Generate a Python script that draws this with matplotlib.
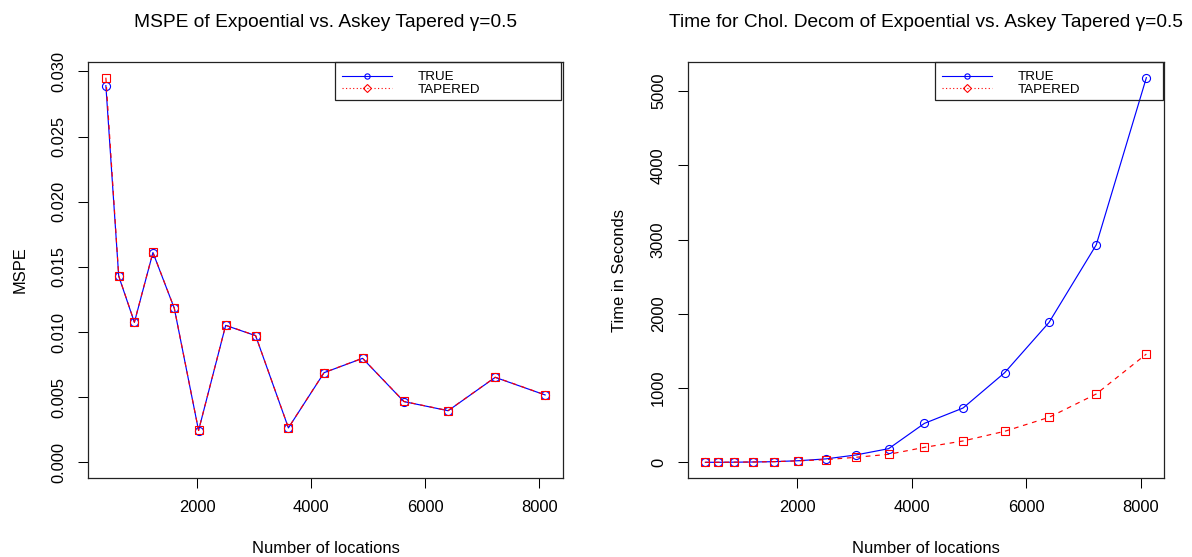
import matplotlib
matplotlib.use("Agg")
import matplotlib.pyplot as plt
from matplotlib.lines import Line2D
from matplotlib.patches import Rectangle

plt.rcParams['font.family'] = ['Liberation Sans', 'DejaVu Sans']

# ---------------- data ----------------
n_locations = [400, 625, 900, 1225, 1600, 2025, 2500, 3025, 3600, 4225, 4900, 5625, 6400, 7225, 8100]

mspe_true = [0.02891, 0.01429, 0.01074, 0.01610, 0.01181, 0.00244, 0.01051, 0.00972,
             0.00264, 0.00688, 0.00798, 0.00466, 0.00396, 0.00652, 0.00517]
mspe_tapered = [0.02952, 0.01432, 0.01076, 0.01612, 0.01182, 0.00245, 0.01052, 0.00973,
                0.00265, 0.00689, 0.00799, 0.00467, 0.00397, 0.00653, 0.00518]

time_true = [0.4, 1.0, 2.2, 4.5, 9.0, 22, 46, 99, 184, 525, 732, 1207, 1884, 2930, 5182]
time_tapered = [0.4, 1.1, 2.4, 4.8, 9.5, 20, 36, 68, 108, 202, 288, 418, 606, 921, 1459]

x_ticks = [2000, 4000, 6000, 8000]
mspe_ticks = [0.000, 0.005, 0.010, 0.015, 0.020, 0.025, 0.030]
time_ticks = [0, 1000, 2000, 3000, 4000, 5000]

legend_labels = ["TRUE", "TAPERED"]
titles = ["MSPE of Expoential vs. Askey Tapered \u03b3=0.5",
          "Time for Chol. Decom of Expoential vs. Askey Tapered \u03b3=0.5"]
ylabels = ["MSPE", "Time in Seconds"]
xlabel = "Number of locations"

# ---------------- layout ----------------
W, H = 1192, 557
fig = plt.figure(figsize=(W / 100, H / 100), dpi=100)

def px_axes(x0, x1, y0, y1):
    return fig.add_axes([x0 / W, 1 - y1 / H, (x1 - x0) / W, (y1 - y0) / H])

ax1 = px_axes(88.3, 562.7, 62.3, 477.7)
ax2 = px_axes(687.7, 1164.0, 62.3, 477.7)

FS = 11.9
BLUE = '#0000FF'
RED = '#FF0000'

def r_range(vals):
    lo, hi = min(vals), max(vals)
    ext = (hi - lo) * 0.04
    return lo - ext, hi + ext

def style(ax, yticks, yfmt):
    ax.set_xlim(*r_range(n_locations))
    ax.set_xticks(x_ticks)
    ax.set_xticklabels([str(t) for t in x_ticks])
    ax.set_yticks(yticks)
    ax.set_yticklabels([yfmt(t) for t in yticks], rotation=90, va='center')
    ax.tick_params(axis='both', length=7.2, width=0.75, labelsize=FS, color='black')
    ax.tick_params(axis='x', pad=9.0)
    ax.tick_params(axis='y', pad=8.5)
    for s in ax.spines.values():
        s.set_linewidth(0.9)
        s.set_color('#222222')

def add_legend(ax, box):
    # box in pixel coords (x0, x1, y0, y1)
    x0, x1, y0, y1 = box
    rect = Rectangle((x0 / W, 1 - y1 / H), (x1 - x0) / W, (y1 - y0) / H,
                     transform=fig.transFigure, fill=False,
                     edgecolor='#222222', linewidth=0.9, zorder=5, clip_on=False)
    ax.add_patch(rect)
    handles = [
        Line2D([], [], color=BLUE, lw=0.8, marker='o', markersize=3.8,
               markerfacecolor='none', markeredgecolor=BLUE, markeredgewidth=0.8),
        Line2D([], [], color=RED, lw=0.8, linestyle=(0, (1, 2.2)), marker='D', markersize=3.6,
               markerfacecolor='none', markeredgecolor=RED, markeredgewidth=0.8),
    ]
    leg = ax.legend(handles, legend_labels, loc='upper left',
                    bbox_to_anchor=((x0 + 4) / W, 1 - (y0 + 6) / H),
                    bbox_transform=fig.transFigure, frameon=False,
                    fontsize=9.6, handlelength=3.8, handletextpad=1.9,
                    labelspacing=0.0, borderpad=0.2, borderaxespad=0.0)
    leg.set_zorder(6)

def plot_pair(ax, ytrue, ytap):
    ax.plot(n_locations, ytrue, color=BLUE, lw=0.85, marker='o', markersize=5.8,
            markerfacecolor='none', markeredgecolor=BLUE, markeredgewidth=0.8, zorder=3)
    ax.plot(n_locations, ytap, color=RED, lw=0.85, linestyle=(0, (4, 4)), marker='s',
            markersize=5.3, markerfacecolor='none', markeredgecolor=RED,
            markeredgewidth=0.8, zorder=4)

# left panel
plot_pair(ax1, mspe_true, mspe_tapered)
ax1.set_ylim(*r_range([0.0] + mspe_tapered))
style(ax1, mspe_ticks, lambda t: f"{t:.3f}")

# right panel
plot_pair(ax2, time_true, time_tapered)
ax2.set_ylim(*r_range(time_true + time_tapered))
style(ax2, time_ticks, lambda t: f"{t:d}")

for ax, title, ylab, xc, ylx in [(ax1, titles[0], ylabels[0], 325.5, 25.0),
                                 (ax2, titles[1], ylabels[1], 925.9, 624.0)]:
    fig.text(xc / W, 1 - 27.0 / H, title, ha='center', va='baseline', fontsize=13.8)
    fig.text(xc / W, 1 - 552.7 / H, xlabel, ha='center', va='baseline', fontsize=FS)
    fig.text(ylx / W, 1 - 270.0 / H, ylab, ha='center', va='baseline', rotation=90,
             fontsize=FS, rotation_mode='anchor')

add_legend(ax1, (335.0, 561.0, 62.3, 100.3))
add_legend(ax2, (935.0, 1163.0, 62.3, 100.3))

fig.savefig("out.png", dpi=100)
